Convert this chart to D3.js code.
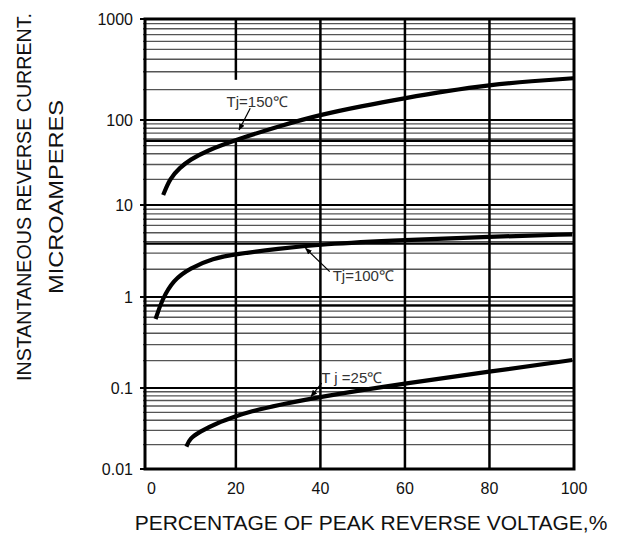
<!DOCTYPE html>
<html><head><meta charset="utf-8">
<script src="https://cdn.jsdelivr.net/npm/d3@7"></script>
<style>body{margin:0;background:#fff}svg{display:block}</style>
</head><body><svg id="c" width="624" height="542"></svg>
<script>
// ---- data ----
const xTickValues = [0, 20, 40, 60, 80, 100];
const xTickLabels = ["0", "20", "40", "60", "80", "100"];
const yTickValues = [1000, 100, 10, 1, 0.1, 0.01];
const yTickLabels = ["1000", "100", "10", "1", "0.1", "0.01"];
const boldGridValues = [57, 3.8, 0.81];

const seriesNames = ["Tj=150℃", "Tj=100℃", "T j =25℃"];
const pct150 = [2.8, 4.4, 6.75, 9.1, 13.1, 19.9, 30, 40, 50, 59.8, 70, 79.9, 90, 99.8];
const cur150 = [13.1, 20.6, 27.5, 34, 43.5, 58.2, 84, 113, 138, 164, 194, 222, 243, 259];
const pct100 = [1.0, 2.5, 5.2, 9.1, 14.6, 20, 30, 40, 60, 80, 99.6];
const cur100 = [0.573, 0.93, 1.53, 2.05, 2.63, 2.93, 3.35, 3.75, 4.17, 4.52, 4.80];
const pct25 = [8.3, 9.1, 11.5, 15.4, 20.1, 23.3, 30, 40, 60, 80, 99.6];
const cur25 = [0.0189, 0.0239, 0.0289, 0.0367, 0.0449, 0.051, 0.0617, 0.0781, 0.1126, 0.151, 0.203];

const xTitle = "PERCENTAGE OF PEAK REVERSE VOLTAGE,%";
const yTitle1 = "INSTANTANEOUS REVERSE CURRENT.";
const yTitle2 = "MICROAMPERES";

(function () {
// ---- layout ----
const pL = 145, pR = 574, pT = 19, pB = 469;
const svg = d3.select("#c");
const font = "'Liberation Sans', Arial, sans-serif";

const x = d3.scaleLinear().domain([-1.5, 100]).range([pL, pR]);
const y = d3.scaleLog()
  .domain([0.01, 0.1, 1, 10, 100, 1000])
  .range([pB, 388, 297, 205, 120, pT]);

const minor = [];
[0.01, 0.1, 1, 10, 100].forEach(d => { for (let k = 2; k <= 9; k++) minor.push(k * d); });

const g = svg.append("g");
g.selectAll(".minor").data(minor).join("line")
  .attr("x1", pL - 2).attr("x2", pR)
  .attr("y1", d => y(d)).attr("y2", d => y(d))
  .attr("stroke", "#555").attr("stroke-width", 1.4);

g.selectAll(".bold").data(boldGridValues).join("line")
  .attr("x1", pL).attr("x2", pR)
  .attr("y1", d => y(d)).attr("y2", d => y(d))
  .attr("stroke", "#000").attr("stroke-width", 2.4);

g.selectAll(".major").data(yTickValues).join("line")
  .attr("x1", pL - 5).attr("x2", pR)
  .attr("y1", d => y(d)).attr("y2", d => y(d))
  .attr("stroke", "#000").attr("stroke-width", 2);

const vGrid = xTickValues.filter(v => v > 0 && v < 100);
vGrid.forEach(v => {
  if (v === 20) {
    g.append("line").attr("x1", x(v)).attr("x2", x(v)).attr("y1", pT).attr("y2", y(250))
      .attr("stroke", "#000").attr("stroke-width", 2.5);
    g.append("line").attr("x1", x(v)).attr("x2", x(v)).attr("y1", y(58)).attr("y2", pB)
      .attr("stroke", "#000").attr("stroke-width", 2.5);
  } else {
    g.append("line").attr("x1", x(v)).attr("x2", x(v)).attr("y1", pT).attr("y2", pB)
      .attr("stroke", "#000").attr("stroke-width", 2.5);
  }
});

g.append("rect").attr("x", pL).attr("y", pT).attr("width", pR - pL).attr("height", pB - pT)
  .attr("fill", "none").attr("stroke", "#000").attr("stroke-width", 3);

svg.selectAll(".yl").data(yTickValues).join("text")
  .attr("x", 133).attr("y", d => y(d)).attr("dy", "0.36em")
  .attr("text-anchor", "end").attr("font-family", font).attr("font-size", 16).attr("fill", "#111")
  .text((d, i) => yTickLabels[i]);

svg.selectAll(".xl").data(xTickValues).join("text")
  .attr("x", d => x(d)).attr("y", 488).attr("dy", "0.36em")
  .attr("text-anchor", "middle").attr("font-family", font).attr("font-size", 16).attr("fill", "#111")
  .text((d, i) => xTickLabels[i]);

svg.append("text").attr("x", 371).attr("y", 522).attr("dy", "0.36em")
  .attr("text-anchor", "middle").attr("font-family", font).attr("font-size", 21).attr("fill", "#111")
  .text(xTitle);
svg.append("text").attr("transform", "translate(24,197) rotate(-90)").attr("dy", "0.36em")
  .attr("text-anchor", "middle").attr("font-family", font).attr("font-size", 20).attr("fill", "#111")
  .attr("textLength", 368).attr("lengthAdjust", "spacingAndGlyphs")
  .text(yTitle1);
svg.append("text").attr("transform", "translate(55,197) rotate(-90)").attr("dy", "0.36em")
  .attr("text-anchor", "middle").attr("font-family", font).attr("font-size", 21).attr("fill", "#111")
  .attr("textLength", 194).attr("lengthAdjust", "spacingAndGlyphs")
  .text(yTitle2);

const series = [
  {p: pct150, c: cur150},
  {p: pct100, c: cur100},
  {p: pct25, c: cur25}
];
const line = d3.line().x(d => x(d[0])).y(d => y(d[1])).curve(d3.curveBasis);
svg.selectAll(".curve").data(series).join("path")
  .attr("d", s => line(s.p.map((v, i) => [v, s.c[i]])))
  .attr("fill", "none").attr("stroke", "#000").attr("stroke-width", 4.2).attr("stroke-linecap", "butt");

svg.append("defs").append("marker").attr("id", "ah")
  .attr("viewBox", "0 0 10 10").attr("refX", 9).attr("refY", 5)
  .attr("markerWidth", 7).attr("markerHeight", 7).attr("orient", "auto-start-reverse")
  .attr("markerUnits", "userSpaceOnUse")
  .append("path").attr("d", "M0,1 L10,5 L0,9 Z").attr("fill", "#000");

const ann = [
  {tx: 17.8, tv: 134.5, fx: 23.4, fv: 130.6, ax: 20.75, av: 76.3},
  {tx: 42.9, tv: 1.49, fx: 42.2, fv: 1.884, ax: 36.5, av: 3.38},
  {tx: 40.2, tv: 0.1135, fx: 40.3, fv: 0.113, ax: 37.8, av: 0.0786}
];
ann.forEach((a, i) => {
  svg.append("line").attr("x1", x(a.fx)).attr("y1", y(a.fv)).attr("x2", x(a.ax)).attr("y2", y(a.av))
    .attr("stroke", "#000").attr("stroke-width", 1.2).attr("marker-end", "url(#ah)");
  svg.append("text").attr("x", x(a.tx)).attr("y", y(a.tv))
    .attr("font-family", font).attr("font-size", 15).attr("fill", "#333")
    .text(seriesNames[i]);
});
})();
</script>
</body></html>
